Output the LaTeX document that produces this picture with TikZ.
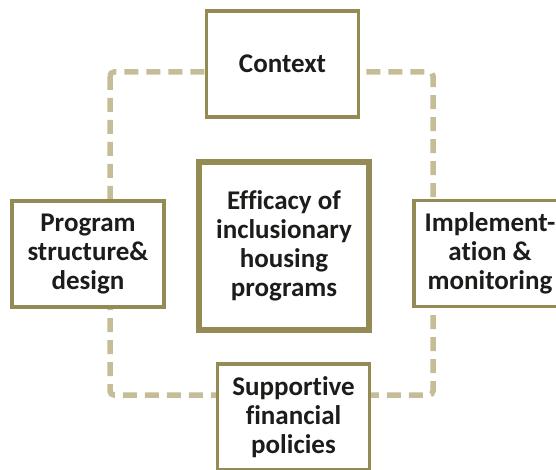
\documentclass[tikz,border=0pt]{standalone}
\usepackage{fontspec}
\setmainfont[RawFeature={-liga;-clig;-dlig;-calt}]{Carlito}
\definecolor{boxline}{HTML}{948A54}
\definecolor{ringline}{HTML}{C4BD97}
\definecolor{txt}{HTML}{1C1C1A}
\newcommand{\nolig}{\kern0pt }
\begin{document}
\begin{tikzpicture}[x=1pt,y=-1pt,
  box/.style={draw=boxline, line width=3.2pt, fill=white, minimum width=152pt, minimum height=106pt,
    align=center, text=txt, inner sep=0pt, font=\fontsize{27}{29}\selectfont\bfseries},
  bigbox/.style={box, line width=5.5pt, minimum width=170pt, minimum height=168pt},
  ring/.style={draw=ringline, line width=5.5pt, dash pattern=on 14pt off 8pt, rounded corners=4pt}]
\useasboundingbox (0,0) rectangle (556,470);
\coordinate (ringNW) at (110,72);
\coordinate (ringSE) at (433,395);
\draw[ring] (ringNW) rectangle (ringSE);
\node[box] (context) at (282.5,64) {Context};
\node[bigbox] (center) at (284,246) {Efficacy of\\inclusionary\\housing\\programs};
\node[box] (program) at (88,254) {Program\\structure\&\\design};
\node[box] (impl) at (490,253.5) {Implement-\\at\nolig ion \&\\monitoring};
\node[box] (support) at (293.5,417) {Support\nolig ive\\financial\\policies};
\end{tikzpicture}
\end{document}
